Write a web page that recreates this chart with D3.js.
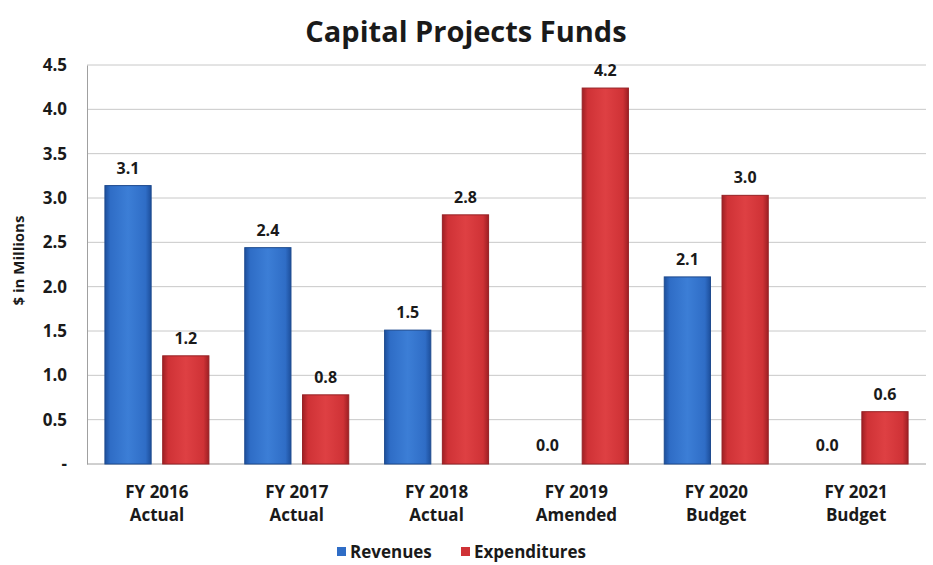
<!DOCTYPE html>
<meta charset="utf-8">
<style>
  body { margin: 0; background: #fff; }
  text { font-family: "Open Sans", "Noto Sans", sans-serif; font-weight: bold; fill: #1a1a1a; }
</style>
<svg width="933" height="565"></svg>
<script src="https://d3js.org/d3.v7.min.js"></script>
<script>

var years = ["FY 2016", "FY 2017", "FY 2018", "FY 2019", "FY 2020", "FY 2021"];
var kinds = ["Actual", "Actual", "Actual", "Amended", "Budget", "Budget"];
var revenues = [3.14, 2.44, 1.51, 0, 2.11, 0];
var expenditures = [1.22, 0.78, 2.81, 4.24, 3.03, 0.59];
var yTicks = [0, 0.5, 1, 1.5, 2, 2.5, 3, 3.5, 4, 4.5];
var seriesNames = ["Revenues", "Expenditures"];

var svg = d3.select("svg"),
    margin = {top: 65, right: 7, bottom: 101, left: 87},
    width = 933 - margin.left - margin.right,
    height = 565 - margin.top - margin.bottom;

var defs = svg.append("defs");
function grad(id, edge, mid, light) {
  var g = defs.append("linearGradient").attr("id", id).attr("x1", 0).attr("x2", 1).attr("y1", 0).attr("y2", 0);
  g.append("stop").attr("offset", "0%").attr("stop-color", edge);
  g.append("stop").attr("offset", "12%").attr("stop-color", mid);
  g.append("stop").attr("offset", "50%").attr("stop-color", light);
  g.append("stop").attr("offset", "88%").attr("stop-color", mid);
  g.append("stop").attr("offset", "100%").attr("stop-color", edge);
}
grad("gBlue", "#1d4f9c", "#2f6dc6", "#3c7ed6");
grad("gRed", "#9e2024", "#cf3236", "#de4043");
var colors = ["url(#gBlue)", "url(#gRed)"];
var strokes = ["#1d4a8e", "#962024"];
var flat = ["#2f6dc6", "#cf3236"];

var g = svg.append("g").attr("transform", "translate(" + margin.left + "," + margin.top + ")");

var x = d3.scaleBand().domain(years).range([0, width]);
var inner = d3.scaleBand().domain(seriesNames).range([x.bandwidth() / 2 - 52, x.bandwidth() / 2 + 52]).paddingInner(0.2);
var y = d3.scaleLinear().domain([0, 4.5]).range([height, 0]);

// gridlines
g.selectAll(".grid").data(yTicks.slice(1)).enter().append("line")
    .attr("x1", 0).attr("x2", width)
    .attr("y1", function(d) { return y(d); }).attr("y2", function(d) { return y(d); })
    .attr("stroke", "#c8c8c8").attr("stroke-width", 1);

// y axis
var yAxis = g.append("g").call(d3.axisLeft(y).tickValues(yTicks).tickSize(0).tickPadding(20)
    .tickFormat(function(d) { return d === 0 ? "-" : d3.format(".1f")(d); }));
yAxis.select(".domain").attr("stroke", "#a0a0a0");
yAxis.selectAll("text").style("font-size", "17px");

// x axis baseline
g.append("line").attr("x1", 0).attr("x2", width).attr("y1", height).attr("y2", height).attr("stroke", "#a0a0a0");

var rows = years.map(function(yr, i) { return {year: yr, vals: [revenues[i], expenditures[i]]}; });

var groups = g.selectAll(".cat").data(rows).enter().append("g")
    .attr("transform", function(d) { return "translate(" + x(d.year) + ",0)"; });

groups.selectAll("rect").data(function(d) { return d.vals.map(function(v, k) { return {v: v, k: k}; }); })
  .enter().append("rect")
    .attr("x", function(d) { return inner(seriesNames[d.k]); })
    .attr("width", inner.bandwidth())
    .attr("y", function(d) { return y(d.v); })
    .attr("height", function(d) { return height - y(d.v); })
    .attr("fill", function(d) { return colors[d.k]; })
    .attr("stroke", function(d) { return d.v > 0 ? strokes[d.k] : "none"; })
    .attr("stroke-width", 1);

// value labels
groups.selectAll(".val").data(function(d) { return d.vals.map(function(v, k) { return {v: v, k: k}; }); })
  .enter().append("text")
    .attr("x", function(d) { return inner(seriesNames[d.k]) + inner.bandwidth() / 2; })
    .attr("y", function(d) { return y(d.v) - (d.v > 0 ? 12 : 13); })
    .attr("text-anchor", "middle")
    .style("font-size", "16px")
    .text(function(d) { return d3.format(".1f")(d.v); });

// x labels
var xl = g.selectAll(".xl").data(rows).enter().append("text")
    .attr("text-anchor", "middle")
    .attr("transform", function(d) { return "translate(" + (x(d.year) + x.bandwidth() / 2) + "," + (height + 34) + ")"; })
    .style("font-size", "17px");
xl.append("tspan").attr("x", 0).attr("dy", 0).text(function(d) { return d.year; });
xl.append("tspan").attr("x", 0).attr("dy", 23).text(function(d, i) { return kinds[i]; });

// y axis title
svg.append("text").attr("transform", "translate(24," + (margin.top + height / 2 - 4) + ") rotate(-90)")
    .attr("text-anchor", "middle").style("font-size", "15px").text("$ in Millions");

// title
svg.append("text").attr("x", 466).attr("y", 42).attr("text-anchor", "middle")
    .style("font-size", "29px").text("Capital Projects Funds");

// legend
var legX = [337, 461];
var leg = svg.selectAll(".leg").data(seriesNames).enter().append("g")
    .attr("transform", function(d, i) { return "translate(" + legX[i] + ",558)"; });
leg.append("rect").attr("x", 0).attr("y", -11).attr("width", 9).attr("height", 9)
    .attr("fill", function(d, i) { return flat[i]; });
leg.append("text").attr("x", 13).attr("y", 0).style("font-size", "17px").text(function(d) { return d; });

</script>
